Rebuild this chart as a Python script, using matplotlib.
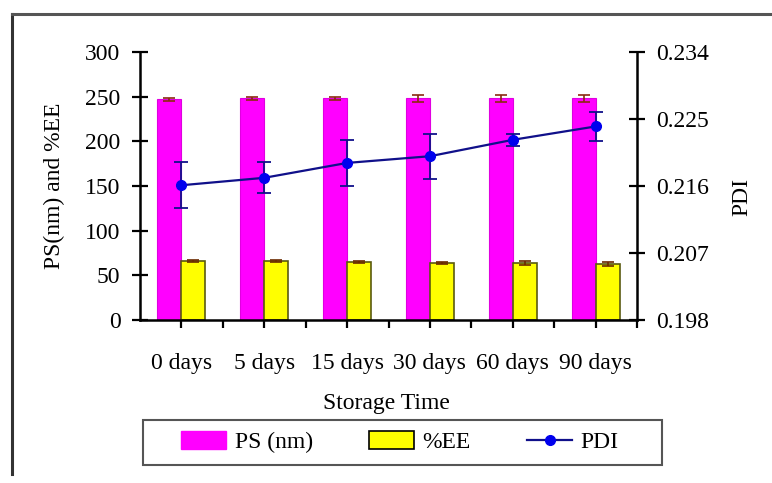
import matplotlib.pyplot as plt
from matplotlib.patches import Patch, Rectangle
from matplotlib.lines import Line2D
import numpy as np

plt.rcParams['font.family'] = ['Liberation Serif', 'DejaVu Serif']

# data
days = ['0 days', '5 days', '15 days', '30 days', '60 days', '90 days']
ps = [247, 248, 248, 248, 248, 248]
ps_err = [2, 2, 2, 4, 4, 4]
ee = [66, 66, 65, 64, 64, 63]
ee_err = [1, 1, 0.8, 1, 2, 2]
pdi = [0.2161, 0.2171, 0.2191, 0.2200, 0.2222, 0.2240]
pdi_err = [0.0031, 0.0021, 0.0031, 0.0030, 0.0008, 0.0019]

FS = 17

fig = plt.figure(figsize=(7.72, 4.83), dpi=100)
ax = fig.add_axes([140/772, 1-320/483, (637-140)/772, (320-52)/483])
ax2 = ax.twinx()

x = np.arange(len(days))
w = 0.29
ax.bar(x - w/2, ps, w, color='#ff00ff', edgecolor='#e000e0', linewidth=0.8,
       yerr=ps_err, error_kw=dict(ecolor='#8b2a10', capsize=4, elinewidth=1.2, capthick=1.2))
ax.bar(x + w/2, ee, w, color='#ffff00', edgecolor='#5a5a10', linewidth=1.2,
       yerr=ee_err, error_kw=dict(ecolor='#6b2a00', capsize=4, elinewidth=1.2, capthick=1.2))

ax2.errorbar(x, pdi, yerr=pdi_err, color='#10108a', lw=1.6, marker='o', ms=7,
             mfc='#0000ee', mec='#0000ee', ecolor='#10108a', elinewidth=1.3,
             capsize=5, capthick=1.3)

ax.set_xlim(-0.5, 5.5)
ax.set_ylim(0, 300)
ax.set_yticks(np.arange(0, 301, 50))
ax.set_xticks(x)
ax.set_xticks(x + 0.5, minor=True)
ax.set_xticklabels(days)

ax2.set_ylim(0.198, 0.234)
ax2.set_yticks([0.198, 0.207, 0.216, 0.225, 0.234])
ax2.set_yticklabels(['0.198', '0.207', '0.216', '0.225', '0.234'])

for a in (ax, ax2):
    a.spines['top'].set_visible(False)
    for s in a.spines.values():
        s.set_linewidth(1.8)
ax.spines['right'].set_visible(False)
ax2.spines['left'].set_visible(False)
ax2.spines['bottom'].set_visible(False)

ax.tick_params(axis='y', direction='inout', length=12, width=1.6, labelsize=FS, pad=8)
ax.tick_params(axis='x', which='both', direction='out', length=6, width=1.6, labelsize=FS, pad=18)
ax2.tick_params(axis='y', direction='inout', length=12, width=1.6, labelsize=FS, pad=8)

fig.text(54/772, 1-186/483, 'PS(nm) and %EE', rotation=90, ha='center', va='center', fontsize=FS)
fig.text(742/772, 1-197/483, 'PDI', rotation=90, ha='center', va='center', fontsize=FS)
fig.text(386/772, 1-403/483, 'Storage Time', ha='center', va='center', fontsize=FS)

handles = [Patch(facecolor='#ff00ff', edgecolor='#ff00ff'),
           Patch(facecolor='#ffff00', edgecolor='black', linewidth=1.2),
           Line2D([], [], color='#10108a', lw=1.6, marker='o', ms=7, mfc='#0000ee', mec='#0000ee')]
fig.legend(handles, ['PS (nm)', '%EE', 'PDI'], ncol=3,
           bbox_to_anchor=(400/772, 1-442/483), loc='center', fontsize=FS,
           frameon=False, handlelength=1.9, handleheight=0.8, handletextpad=0.35,
           columnspacing=2.4, borderpad=0)
fig.add_artist(Rectangle((143/772, 1-465/483), 519/772, 45/483, fill=False,
                         edgecolor='#555555', lw=1.5, transform=fig.transFigure))

# outer chart frame (top and left edges visible in the reference)
fig.add_artist(Line2D([12/772, 12/772], [1-14/483, 1-474/483], color='#333333', lw=2.2))
fig.add_artist(Line2D([12/772, 1.0], [1-14/483, 1-14/483], color='#555555', lw=2.2))

fig.savefig('out.png', dpi=100)
